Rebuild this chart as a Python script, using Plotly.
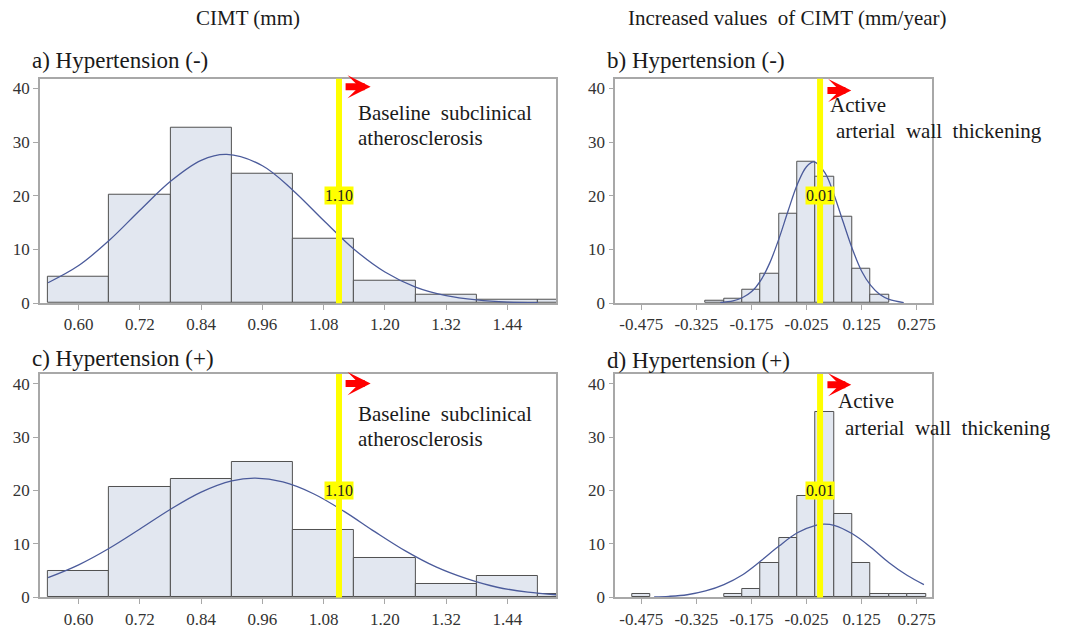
import plotly.graph_objects as go

# ---------------- data ----------------
cimt_bins = [0.60, 0.72, 0.84, 0.96, 1.08, 1.20, 1.32, 1.44, 1.56]
cimt_ticks = [0.60, 0.72, 0.84, 0.96, 1.08, 1.20, 1.32, 1.44]
cimt_ticktext = ["0.60", "0.72", "0.84", "0.96", "1.08", "1.20", "1.32", "1.44"]
a_percent = [4.9, 20.1, 32.7, 24.1, 12.0, 4.1, 1.5, 0.6, 0.6]
c_percent = [4.9, 20.6, 22.2, 25.4, 12.6, 7.3, 2.5, 4.0, 0.7]

a_curve_x = [0.54, 0.60, 0.66, 0.72, 0.78, 0.84, 0.89, 0.96, 1.02, 1.08, 1.14, 1.20, 1.26, 1.32, 1.38, 1.44, 1.50]
a_curve_y = [3.8, 7.0, 11.7, 17.3, 22.7, 26.6, 27.7, 25.6, 21.0, 15.4, 10.0, 5.8, 3.0, 1.4, 0.6, 0.2, 0.1]
c_curve_x = [0.54, 0.60, 0.66, 0.72, 0.78, 0.84, 0.90, 0.946, 1.00, 1.06, 1.12, 1.18, 1.24, 1.30, 1.36, 1.42, 1.48, 1.536]
c_curve_y = [3.7, 6.1, 9.2, 12.8, 16.5, 19.7, 21.8, 22.3, 21.6, 19.4, 16.1, 12.3, 8.7, 5.7, 3.5, 1.9, 1.0, 0.5]

inc_b_bins = [-0.275, -0.225, -0.175, -0.125, -0.075, -0.025, 0.025, 0.075, 0.125, 0.175]
b_percent = [0.4, 0.8, 2.5, 5.5, 16.6, 26.3, 23.6, 16.1, 6.4, 1.6]
inc_d_bins = [-0.475, -0.225, -0.175, -0.125, -0.075, -0.025, 0.025, 0.075, 0.125, 0.175, 0.225, 0.275]
d_percent = [0.7, 0.7, 1.6, 6.4, 11.1, 18.9, 34.6, 15.6, 6.4, 0.7, 0.7, 0.7]
inc_ticks = [-0.475, -0.325, -0.175, -0.025, 0.125, 0.275]
inc_ticktext = ["-0.475", "-0.325", "-0.175", "-0.025", "0.125", "0.275"]

b_curve_x = [-0.26, -0.225, -0.20, -0.175, -0.15, -0.125, -0.10, -0.075, -0.05, -0.025, -0.005, 0.025, 0.05, 0.075, 0.10, 0.125, 0.15, 0.175, 0.20, 0.24]
b_curve_y = [0.1, 0.4, 1.0, 2.1, 4.2, 7.5, 12.0, 17.2, 22.1, 25.4, 26.3, 24.3, 20.2, 15.1, 10.1, 6.0, 3.3, 1.6, 0.7, 0.1]
d_curve_x = [-0.44, -0.40, -0.35, -0.30, -0.25, -0.20, -0.15, -0.10, -0.05, 0.0, 0.023, 0.05, 0.10, 0.15, 0.20, 0.25, 0.295]
d_curve_y = [0.1, 0.2, 0.5, 1.2, 2.4, 4.2, 6.8, 9.6, 12.1, 13.5, 13.7, 13.5, 11.9, 9.4, 6.5, 4.1, 2.4]

y_ticks = [0, 10, 20, 30, 40]
cimt_cut_label = "1.10"
inc_cut_label = "0.01"
cimt_cut_pos = 1.11
inc_cut_pos = 0.012

col_titles = ["CIMT (mm)", "Increased values\u00a0 of CIMT (mm/year)"]
panel_titles = ["a) Hypertension (-)", "b) Hypertension (-)", "c) Hypertension (+)", "d) Hypertension (+)"]
cimt_note = ["Baseline\u00a0 subclinical", "atherosclerosis"]
inc_note = ["Active", "arterial\u00a0 wall\u00a0 thickening"]

# ---------------- layout helpers ----------------
W, H = 1067, 633
def px(x): return x / W
def py(y): return 1 - y / H

SERIF = "Liberation Serif, Times New Roman, Tinos, DejaVu Serif, serif"
BAR_FILL = "#e2e7f0"
BAR_LINE = "#505050"
CURVE = "#4b5b9b"
AXIS = "#a8a8a8"

fig = go.Figure()

panels = [
    ("a", "x", "y", cimt_bins, a_percent, 0.12, a_curve_x, a_curve_y, (40, 558), (80, 308), [0.524, 1.536]),
    ("b", "x2", "y2", inc_b_bins, b_percent, 0.05, b_curve_x, b_curve_y, (617, 935), (80, 308), [-0.546, 0.318]),
    ("c", "x3", "y3", cimt_bins, c_percent, 0.12, c_curve_x, c_curve_y, (40, 558), (380, 607), [0.524, 1.536]),
    ("d", "x4", "y4", inc_d_bins, d_percent, 0.05, d_curve_x, d_curve_y, (617, 935), (380, 607), [-0.546, 0.318]),
]

layout_axes = {}
for i, (name, xa, ya, bins, vals, w, cx, cy, xd, yd, xr) in enumerate(panels):
    fig.add_trace(go.Bar(x=bins, y=vals, width=w, xaxis=xa, yaxis=ya,
                         marker=dict(color=BAR_FILL, line=dict(color=BAR_LINE, width=1)),
                         showlegend=False, hoverinfo="x+y"))
    fig.add_trace(go.Scatter(x=cx, y=cy, mode="lines", xaxis=xa, yaxis=ya,
                             line=dict(color=CURVE, width=1.3, shape="spline"),
                             showlegend=False, hoverinfo="skip"))
    cimt = name in ("a", "c")
    sfx = "" if i == 0 else str(i + 1)
    layout_axes["xaxis" + sfx] = dict(
        domain=[px(xd[0]), px(xd[1])], range=xr, anchor="y" + sfx,
        tickvals=cimt_ticks if cimt else inc_ticks,
        ticktext=cimt_ticktext if cimt else inc_ticktext,
        showline=True, linecolor=AXIS, linewidth=1.5, mirror=True,
        ticks="outside", ticklen=5, tickcolor=AXIS, showgrid=False, zeroline=False,
        tickfont=dict(family=SERIF, size=17, color="#333333"), fixedrange=True)
    layout_axes["yaxis" + sfx] = dict(
        domain=[py(yd[1]), py(yd[0])], range=[0, 41.8], anchor="x" + sfx,
        tickvals=y_ticks, showline=True, linecolor=AXIS, linewidth=1.5, mirror=True,
        ticks="outside", ticklen=5, tickcolor=AXIS, showgrid=False, zeroline=False,
        tickfont=dict(family=SERIF, size=17, color="#333333"), fixedrange=True)

    cut = cimt_cut_pos if cimt else inc_cut_pos
    fig.add_shape(type="line", xref=xa, yref=ya + " domain", x0=cut, x1=cut, y0=0, y1=1,
                  line=dict(color="#ffff00", width=6))

for i, (name, xa, ya, *_rest) in enumerate(panels):
    cimt = name in ("a", "c")
    top = name in ("a", "b")
    cut = cimt_cut_pos if cimt else inc_cut_pos
    fig.add_annotation(x=cut, y=20, xref=xa, yref=ya, text=cimt_cut_label if cimt else inc_cut_label,
                       showarrow=False, bgcolor="#ffff00", borderpad=0,
                       font=dict(family=SERIF, size=16, color="#222222"))
    if cimt:
        tail, head = 1.12, 1.172
        ay = 40.3 if top else 40.0
    else:
        tail, head = 0.028, 0.097
        ay = 39.6 if top else 39.8
    fig.add_annotation(x=head, y=ay, ax=tail, ay=ay, xref=xa, yref=ya, axref=xa, ayref=ya,
                       text="", showarrow=True, arrowhead=3, arrowsize=0.55, arrowwidth=7,
                       arrowcolor="#ff0000", standoff=0, startstandoff=0)
    if cimt:
        lines = cimt_note
        xs = [1.143, 1.143]
        ys = [35.4, 30.8] if top else [34.4, 29.6]
    else:
        lines = inc_note
        xs = [0.033, 0.051] if top else [0.055, 0.074]
        ys = [36.9, 32.1] if top else [36.7, 31.7]
    for t, xx, yy in zip(lines, xs, ys):
        fig.add_annotation(x=xx, y=yy, xref=xa, yref=ya, text=t, showarrow=False,
                           xanchor="left", yanchor="middle",
                           font=dict(family=SERIF, size=21, color="#1a1a1a"))

fig.add_annotation(x=px(249), y=py(18), xref="paper", yref="paper", text=col_titles[0],
                   showarrow=False, xanchor="center", yanchor="middle",
                   font=dict(family=SERIF, size=21, color="#1a1a1a"))
fig.add_annotation(x=px(790), y=py(18), xref="paper", yref="paper", text=col_titles[1],
                   showarrow=False, xanchor="center", yanchor="middle",
                   font=dict(family=SERIF, size=21, color="#1a1a1a"))
for t, (x, y) in zip(panel_titles, [(30, 61), (607, 61), (30, 364), (607, 366)]):
    fig.add_annotation(x=px(x), y=py(y), xref="paper", yref="paper", text=t, showarrow=False,
                       xanchor="left", yanchor="middle",
                       font=dict(family=SERIF, size=23, color="#1a1a1a"))

fig.update_layout(width=W, height=H, autosize=False, margin=dict(l=0, r=0, t=0, b=0),
                  paper_bgcolor="white", plot_bgcolor="white", bargap=0, **layout_axes)

fig.write_html("out.html", config={"displayModeBar": False},
               post_script="document.body.style.margin='0';document.body.style.padding='0';"
                           "document.documentElement.style.margin='0';document.body.style.overflow='hidden';")
